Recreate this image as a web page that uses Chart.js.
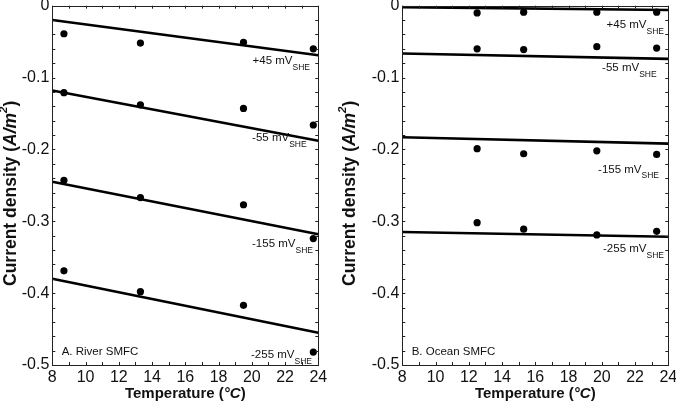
<!DOCTYPE html>
<html>
<head>
<meta charset="utf-8">
<script src="https://cdn.jsdelivr.net/npm/chart.js@4/dist/chart.umd.min.js"></script>
<style>
  html, body { margin: 0; padding: 0; background: #fff; overflow: hidden; }
  #wrap { position: relative; width: 676px; height: 402px; overflow: hidden; background: #fff; }
  canvas { position: absolute; }
</style>
</head>
<body>
<div id="wrap">
  <canvas id="river" width="350" height="412" style="left:0px;top:-10px;width:350px;height:412px"></canvas>
  <canvas id="ocean" width="360" height="412" style="left:326px;top:-10px;width:360px;height:412px"></canvas>
</div>
<script>
// ---------- data ----------
const potentials = ["+45", "-55", "-155", "-255"];
const fitX = [8, 24];

const riverTemps = [8.7, 13.3, 19.5, 23.7];
const river45  = [-0.039, -0.052, -0.051, -0.060];
const river55  = [-0.121, -0.138, -0.143, -0.166];
const river155 = [-0.243, -0.267, -0.277, -0.324];
const river255 = [-0.369, -0.398, -0.417, -0.482];
const riverFit45  = [-0.020, -0.069];
const riverFit55  = [-0.118, -0.188];
const riverFit155 = [-0.245, -0.318];
const riverFit255 = [-0.380, -0.455];

const oceanTemps = [12.5, 15.3, 19.7, 23.3];
const ocean45  = [-0.010, -0.009, -0.009, -0.009];
const ocean55  = [-0.060, -0.061, -0.057, -0.059];
const ocean155 = [-0.199, -0.206, -0.202, -0.207];
const ocean255 = [-0.302, -0.311, -0.319, -0.314];
const oceanFit45  = [-0.002, -0.006];
const oceanFit55  = [-0.0665, -0.074];
const oceanFit155 = [-0.183, -0.192];
const oceanFit255 = [-0.315, -0.3215];

const xTicks = [8, 10, 12, 14, 16, 18, 20, 22, 24];
const yTicks = [0, -0.1, -0.2, -0.3, -0.4, -0.5];

// label anchors (x = right edge in data units, y = centre in data units)
const riverLabelAnchors = [[23.5, -0.077], [23.3, -0.184], [23.68, -0.332], [23.62, -0.486]];
const oceanLabelAnchors = [[23.74, -0.027], [23.3, -0.087], [23.44, -0.228], [23.74, -0.339]];

const FONT = "'Liberation Sans', Arial, Helvetica, sans-serif";

function toPts(xs, ys) { return xs.map((x, i) => ({ x: x, y: ys[i] })); }

function makeDatasets(temps, series, fits) {
  const ds = [];
  series.forEach((s) => {
    ds.push({ data: toPts(temps, s), showLine: false, pointRadius: 3.6, pointBackgroundColor: '#000',
              pointBorderColor: '#000', pointBorderWidth: 0, pointHoverRadius: 3.6 });
  });
  fits.forEach((f) => {
    ds.push({ data: toPts(fitX, f), showLine: true, pointRadius: 0, borderColor: '#000',
              borderWidth: 2.6, fill: false, tension: 0 });
  });
  return ds;
}

function decorPlugin(opts) {
  return {
    id: 'decor_' + opts.name,
    afterDraw(chart) {
      const ctx = chart.ctx;
      const a = chart.chartArea;
      const xs = chart.scales.x, ys = chart.scales.y;
      ctx.save();
      // frame
      ctx.strokeStyle = '#222';
      ctx.lineWidth = 1;
      ctx.strokeRect(Math.round(a.left) + 0.5, Math.round(a.top) + 0.5,
                     Math.round(a.right - a.left), Math.round(a.bottom - a.top));
      // inward ticks
      ctx.beginPath();
      for (let i = 8; i <= 24; i++) {
        const px = Math.round(xs.getPixelForValue(i)) + 0.5;
        ctx.moveTo(px, a.bottom); ctx.lineTo(px, a.bottom - 3);
        ctx.moveTo(px, a.top); ctx.lineTo(px, a.top + 3);
      }
      for (let k = 0; k <= 25; k++) {
        const v = -k * 0.02;
        const py = Math.round(ys.getPixelForValue(v)) + 0.5;
        ctx.moveTo(a.left, py); ctx.lineTo(a.left + 3, py);
        ctx.moveTo(a.right, py); ctx.lineTo(a.right - 3, py);
      }
      ctx.stroke();

      ctx.fillStyle = '#111';
      // x title
      const xParts = [["Temperature (", "bold 15px " + FONT, 0], ["\u00B0C", "italic bold 15px " + FONT, 0], [")", "bold 15px " + FONT, 0]];
      drawParts(ctx, xParts, (a.left + a.right) / 2, a.bottom + 29, 0);
      // y title
      const yParts = [["Current density (", "bold 17.5px " + FONT, 0], ["A/m", "italic bold 17.5px " + FONT, 0],
                      ["2", "italic bold 11.5px " + FONT, -7], [")", "bold 17.5px " + FONT, 0]];
      drawParts(ctx, yParts, opts.yTitleX, (a.top + a.bottom) / 2 + 8, -Math.PI / 2);

      // curve labels
      potentials.forEach((p, i) => {
        const anc = opts.anchors[i];
        const rx = xs.getPixelForValue(anc[0]);
        const cy = ys.getPixelForValue(anc[1]);
        ctx.font = "11.5px " + FONT;
        const mainT = p + " mV";
        const subFont = "8.5px " + FONT;
        const mw = ctx.measureText(mainT).width;
        ctx.font = subFont;
        const sw = ctx.measureText("SHE").width;
        const start = rx - mw - sw;
        ctx.textBaseline = 'middle';
        ctx.textAlign = 'left';
        ctx.font = "11.5px " + FONT;
        ctx.fillText(mainT, start, cy);
        ctx.font = subFont;
        ctx.fillText("SHE", start + mw, cy + 6.5);
      });

      // panel label
      ctx.font = "11.5px " + FONT;
      ctx.textBaseline = 'middle';
      ctx.textAlign = 'left';
      ctx.fillText(opts.panelLabel, a.left + 9.4, a.bottom - 13.3);
      ctx.restore();
    }
  };
}

function drawParts(ctx, parts, cx, cy, rot) {
  ctx.save();
  ctx.translate(cx, cy);
  ctx.rotate(rot);
  let total = 0;
  parts.forEach(p => { ctx.font = p[1]; total += ctx.measureText(p[0]).width; });
  let x = -total / 2;
  ctx.textBaseline = 'middle';
  ctx.textAlign = 'left';
  parts.forEach(p => {
    ctx.font = p[1];
    ctx.fillText(p[0], x, p[2]);
    x += ctx.measureText(p[0]).width;
  });
  ctx.restore();
}

function makeChart(id, temps, series, fits, cfg) {
  const W = cfg.width, H = 412;
  return new Chart(document.getElementById(id), {
    type: 'scatter',
    data: { datasets: makeDatasets(temps, series, fits) },
    options: {
      responsive: false,
      devicePixelRatio: 1,
      animation: false,
      events: [],
      layout: { autoPadding: false, padding: { left: 0, top: 15.7, right: W - cfg.right, bottom: 0 } },
      plugins: { legend: { display: false }, tooltip: { enabled: false } },
      scales: {
        x: {
          type: 'linear', min: 8, max: 24,
          afterBuildTicks: (s) => { s.ticks = xTicks.map(v => ({ value: v })); },
          afterFit: (s) => { s.height = H - 375; },
          grid: { display: false, drawTicks: false },
          border: { display: false },
          ticks: { font: { family: FONT, size: 16 }, color: '#111', padding: 3, maxRotation: 0,
                   callback: (v) => String(v) }
        },
        y: {
          type: 'linear', min: -0.5, max: 0,
          afterBuildTicks: (s) => { s.ticks = yTicks.map(v => ({ value: v })); },
          afterFit: (s) => { s.width = cfg.left; },
          grid: { display: false, drawTicks: false },
          border: { display: false },
          ticks: { font: { family: FONT, size: 16 }, color: '#111', padding: 3,
                   callback: (v) => (Math.abs(v) < 1e-9 ? '0' : v.toFixed(1)) }
        }
      }
    },
    plugins: [decorPlugin(cfg)]
  });
}

makeChart('river', riverTemps, [river45, river55, river155, river255],
          [riverFit45, riverFit55, riverFit155, riverFit255],
          { name: 'river', width: 350, left: 52.3, right: 318.3, yTitleX: 11,
            anchors: riverLabelAnchors, panelLabel: 'A. River SMFC' });
makeChart('ocean', oceanTemps, [ocean45, ocean55, ocean155, ocean255],
          [oceanFit45, oceanFit55, oceanFit155, oceanFit255],
          { name: 'ocean', width: 360, left: 76.3, right: 342.3, yTitleX: 24,
            anchors: oceanLabelAnchors, panelLabel: 'B. Ocean SMFC' });
</script>
</body>
</html>
